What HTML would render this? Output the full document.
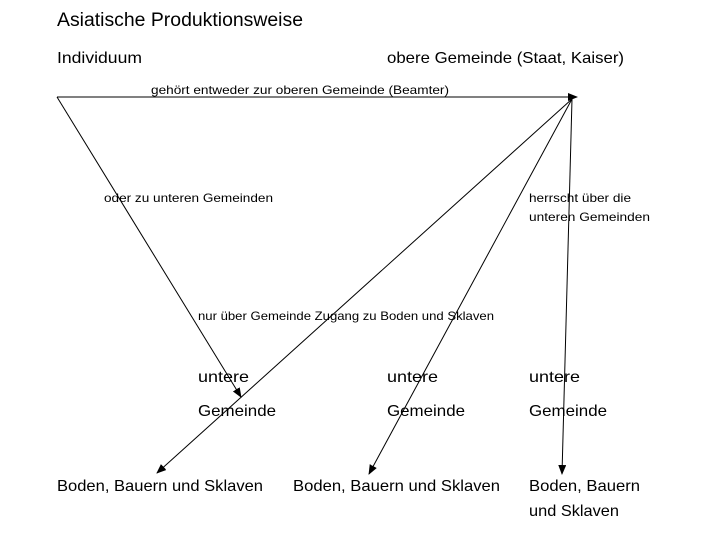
<!DOCTYPE html>
<html><head><meta charset="utf-8"><style>
html,body{margin:0;padding:0;background:#fff;}
svg{display:block;}
text{font-family:"Liberation Sans",sans-serif;fill:#000;}
.s{font-size:12px;}
.m{font-size:16px;}
</style></head><body>
<svg width="709" height="539" viewBox="0 0 709 539" xmlns="http://www.w3.org/2000/svg">
<defs><marker id="a" markerWidth="10" markerHeight="8" refX="9" refY="4" orient="auto" markerUnits="userSpaceOnUse"><path d="M0,0 L10,4 L0,8 z" fill="#000"/></marker></defs>
<g stroke="#000" stroke-width="1" fill="none">
<line x1="57" y1="97" x2="577" y2="97" marker-end="url(#a)"/>
<line x1="57" y1="97" x2="241" y2="397" marker-end="url(#a)"/>
<line x1="572" y1="99" x2="157" y2="473" marker-end="url(#a)"/>
<line x1="572" y1="99" x2="369" y2="474" marker-end="url(#a)"/>
<line x1="572" y1="99" x2="562" y2="474" marker-end="url(#a)"/>
</g>
<text x="57" y="26" font-size="19" textLength="246" lengthAdjust="spacingAndGlyphs">Asiatische Produktionsweise</text>
<text class="m" x="57" y="63" textLength="85" lengthAdjust="spacingAndGlyphs">Individuum</text>
<text class="m" x="387" y="63" textLength="237" lengthAdjust="spacingAndGlyphs">obere Gemeinde (Staat, Kaiser)</text>
<text class="s" x="151" y="94" textLength="298" lengthAdjust="spacingAndGlyphs">gehört entweder zur oberen Gemeinde (Beamter)</text>
<text class="s" x="104" y="202" textLength="169" lengthAdjust="spacingAndGlyphs">oder zu unteren Gemeinden</text>
<text class="s" x="529" y="202" textLength="102" lengthAdjust="spacingAndGlyphs">herrscht über die</text>
<text class="s" x="529" y="221" textLength="121" lengthAdjust="spacingAndGlyphs">unteren Gemeinden</text>
<text class="s" x="198" y="320" textLength="296" lengthAdjust="spacingAndGlyphs">nur über Gemeinde Zugang zu Boden und Sklaven</text>
<text class="m" x="198" y="382" textLength="51" lengthAdjust="spacingAndGlyphs">untere</text>
<text class="m" x="198" y="416" textLength="78" lengthAdjust="spacingAndGlyphs">Gemeinde</text>
<text class="m" x="387" y="382" textLength="51" lengthAdjust="spacingAndGlyphs">untere</text>
<text class="m" x="387" y="416" textLength="78" lengthAdjust="spacingAndGlyphs">Gemeinde</text>
<text class="m" x="529" y="382" textLength="51" lengthAdjust="spacingAndGlyphs">untere</text>
<text class="m" x="529" y="416" textLength="78" lengthAdjust="spacingAndGlyphs">Gemeinde</text>
<text class="m" x="57" y="491" textLength="206" lengthAdjust="spacingAndGlyphs">Boden, Bauern und Sklaven</text>
<text class="m" x="293" y="491" textLength="207" lengthAdjust="spacingAndGlyphs">Boden, Bauern und Sklaven</text>
<text class="m" x="529" y="491" textLength="111" lengthAdjust="spacingAndGlyphs">Boden, Bauern</text>
<text class="m" x="529" y="516" textLength="90" lengthAdjust="spacingAndGlyphs">und Sklaven</text>
</svg>
</body></html>
